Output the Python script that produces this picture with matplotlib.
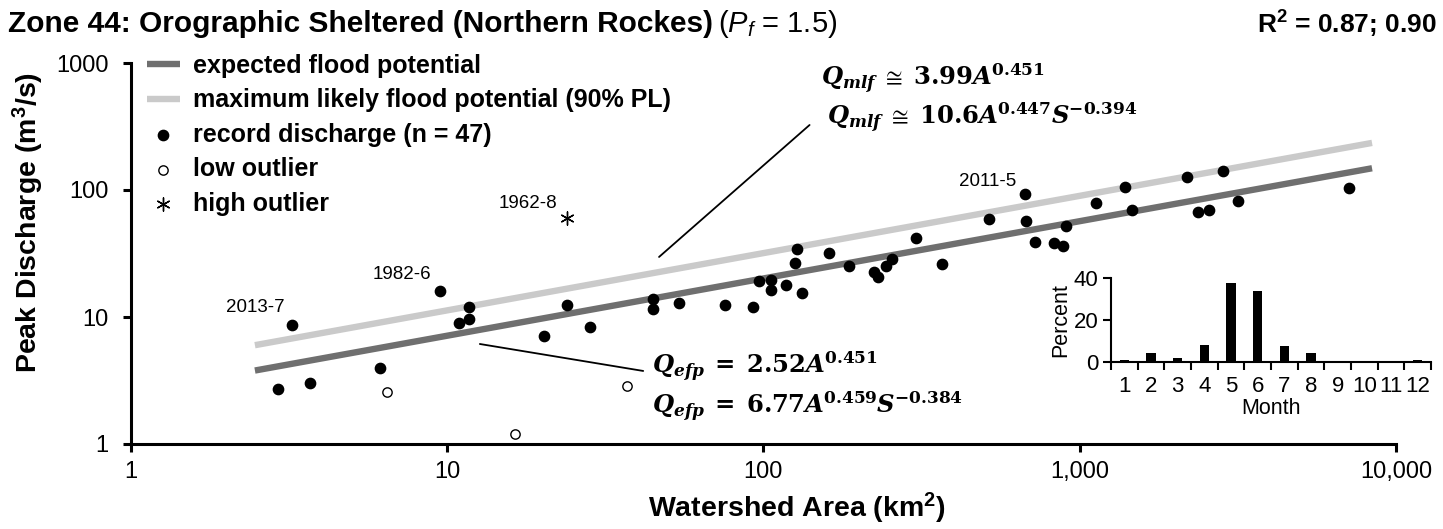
import numpy as np
import matplotlib
matplotlib.use("Agg")
import matplotlib.pyplot as plt
from matplotlib.ticker import FuncFormatter, FixedLocator, NullLocator

plt.rcParams["font.family"] = ["Liberation Sans", "DejaVu Sans"]
plt.rcParams["mathtext.fontset"] = "custom"
plt.rcParams["mathtext.rm"] = "Liberation Sans"
plt.rcParams["mathtext.it"] = "Liberation Sans:italic"
plt.rcParams["mathtext.bf"] = "Liberation Sans:bold"

# record discharges (area km2, peak m3/s)
area = [3.23, 2.92, 3.69, 6.14, 9.5, 11.7, 10.9, 11.7, 20.3, 24.0, 28.3, 44.7,
        44.7, 54.2, 75.9, 92.5, 96.7, 105.4, 106, 118, 132.5, 126, 128, 161.4,
        186.4, 223, 231, 244, 255, 303, 368, 516, 673, 678, 721, 832, 884, 904,
        1130, 1393, 1468, 2188, 2362, 2569, 2840, 3168, 7095]
peak = [8.65, 2.70, 3.01, 3.95, 16.1, 11.9, 9.0, 9.6, 7.13, 12.4, 8.39, 13.8,
        11.6, 12.8, 12.5, 11.9, 19.2, 19.6, 16.3, 18.0, 15.4, 26.8, 34.5, 32.1,
        25.2, 22.7, 20.8, 25.2, 28.6, 42.1, 26.2, 59.1, 92.5, 57.3, 38.9, 38.0,
        36.2, 52.4, 79.4, 106, 69.9, 127, 67.5, 69.6, 141, 81.5, 103]

low_area = [6.45, 37.0, 16.4]
low_peak = [2.58, 2.88, 1.19]
high_area = [24.0]
high_peak = [59.9]

# labelled events
event_labels = ["2013-7", "1982-6", "1962-8", "2011-5"]
event_area = [3.23, 9.5, 24.0, 673]
event_peak = [8.65, 16.1, 59.9, 92.5]

# regression curves
c_efp, c_mlf, b_exp = 2.52, 3.99, 0.451
a_min, a_max = 2.47, 8400

# monthly distribution (percent)
months = list(range(1, 13))
month_pct = [0.8, 4.3, 2.1, 8.3, 37.8, 33.8, 7.4, 4.3, 0.5, 0, 0, 0.8]

W, H = 1443, 529
fig = plt.figure(figsize=(W / 100, H / 100), dpi=100)
ax = fig.add_axes([130.7 / W, 1 - 444 / H, (1396 - 130.7) / W, 381 / H])

A = np.logspace(np.log10(a_min), np.log10(a_max), 200)
l1, = ax.plot(A, c_efp * A ** b_exp, color="#6f6f6f", lw=4.6, solid_capstyle="butt",
              label="expected flood potential", zorder=2)
l2, = ax.plot(A, c_mlf * A ** b_exp, color="#cacaca", lw=4.6, solid_capstyle="butt",
              label="maximum likely flood potential (90% PL)", zorder=1)
s1 = ax.scatter(area, peak, s=55, color="black", zorder=3, label="record discharge (n = 47)")
s2 = ax.scatter(low_area, low_peak, s=45, facecolor="white", edgecolor="black",
                linewidths=1.0, zorder=3, label="low outlier")
s3 = ax.scatter(high_area, high_peak, s=90, marker=(6, 2, 0), color="black",
                linewidths=1.0, zorder=3, label="high outlier")

ax.set_xscale("log")
ax.set_yscale("log")
ax.set_xlim(1, 10000)
ax.set_ylim(1, 1000)
ax.xaxis.set_major_locator(FixedLocator([1, 10, 100, 1000, 10000]))
ax.yaxis.set_major_locator(FixedLocator([1, 10, 100, 1000]))
ax.xaxis.set_minor_locator(NullLocator())
ax.yaxis.set_minor_locator(NullLocator())
ax.xaxis.set_major_formatter(FuncFormatter(lambda v, p: f"{v:,.0f}"))
ax.yaxis.set_major_formatter(FuncFormatter(lambda v, p: f"{v:.0f}"))
for s in ["top", "right"]:
    ax.spines[s].set_visible(False)
for s in ["left", "bottom"]:
    ax.spines[s].set_linewidth(2.2)
ax.tick_params(axis="both", which="major", length=6, width=2.2, labelsize=17)
ax.tick_params(axis="x", pad=6)
ax.tick_params(axis="y", pad=10)

fig.text(797 / W, 1 - 508 / H, "Watershed Area (km$^{\\mathbf{2}}$)", fontsize=20.5,
         fontweight="bold", ha="center", va="center")
fig.text(28 / W, 1 - 222 / H, "Peak Discharge (m$^{\\mathbf{3}}$/s)", fontsize=20.5,
         fontweight="bold", ha="center", va="center", rotation=90)

leg = ax.legend(handles=[l1, l2, s1, s2, s3], loc="upper left", bbox_to_anchor=(0.005, 1.05),
                frameon=False, prop={"weight": "bold", "size": 18}, handlelength=1.3,
                handletextpad=0.55, labelspacing=0.42, borderaxespad=0)

offsets = [(-36, 17), (-38, 16), (-39, 15), (-38, 13)]
for lab, x, y, (dx, dy) in zip(event_labels, event_area, event_peak, offsets):
    ax.annotate(lab, (x, y), xytext=(dx * 0.72, dy * 0.72), textcoords="offset points",
                ha="center", va="center", fontsize=13.5)

# leader lines for equations
ax.annotate("", xy=(46.8, 29.7), xytext=(140, 325), xycoords="data",
            arrowprops=dict(arrowstyle="-", color="black", lw=1.3, shrinkA=0, shrinkB=0))
ax.annotate("", xy=(12.7, 6.13), xytext=(41.7, 3.76), xycoords="data",
            arrowprops=dict(arrowstyle="-", color="black", lw=1.3, shrinkA=0, shrinkB=0))

eq_kw = dict(fontsize=17.5, math_fontfamily="dejavuserif", ha="left", va="center")
ax.text(152, 745, r"$\mathbfit{Q}_{\mathbfit{mlf}}\;\cong\;\mathbf{3.99}\mathbfit{A}^{\mathbf{0.451}}$", **eq_kw)
ax.text(159, 368, r"$\mathbfit{Q}_{\mathbfit{mlf}}\;\cong\;\mathbf{10.6}\mathbfit{A}^{\mathbf{0.447}}\mathbfit{S}^{\mathbf{-0.394}}$", **eq_kw)
ax.text(44.5, 4.05, r"$\mathbfit{Q}_{\mathbfit{efp}}\;\mathbf{=}\;\mathbf{2.52}\mathbfit{A}^{\mathbf{0.451}}$", **eq_kw)
ax.text(44.5, 1.95, r"$\mathbfit{Q}_{\mathbfit{efp}}\;\mathbf{=}\;\mathbf{6.77}\mathbfit{A}^{\mathbf{0.459}}\mathbfit{S}^{\mathbf{-0.384}}$", **eq_kw)

# title
fig.text(8 / W, 1 - 24 / H, "Zone 44: Orographic Sheltered (Northern Rockes)",
         fontsize=21.5, fontweight="bold", ha="left", va="center")
fig.text(718 / W, 1 - 24 / H, r"($P_f$ = 1.5)", fontsize=21, ha="left", va="center")
fig.text(1437 / W, 1 - 24 / H, r"R$^{\mathbf{2}}$ = 0.87; 0.90", fontsize=19,
         fontweight="bold", ha="right", va="center")

# inset month histogram
ins = fig.add_axes([1111 / W, 1 - 362 / H, 320 / W, 84 / H])
ins.bar(months, month_pct, width=0.35, color="black")
ins.set_xlim(0.5, 12.5)
ins.set_ylim(0, 40)
ins.set_yticks([0, 20, 40])
ins.set_xticks(months)
ins.set_xticks(np.arange(0.5, 13, 1), minor=True)
ins.tick_params(axis="x", which="major", length=0, labelsize=16, pad=10)
ins.tick_params(axis="x", which="minor", length=6, width=1.5, direction="out")
ins.tick_params(axis="y", length=6, width=1.5, labelsize=16, pad=3)
for s in ["top", "right"]:
    ins.spines[s].set_visible(False)
for s in ["left", "bottom"]:
    ins.spines[s].set_linewidth(1.5)
ins.set_ylabel("Percent", fontsize=15.5, labelpad=2)
ins.set_xlabel("Month", fontsize=15.5, labelpad=1)
ins.patch.set_alpha(0)

fig.savefig("out.png", dpi=100)
